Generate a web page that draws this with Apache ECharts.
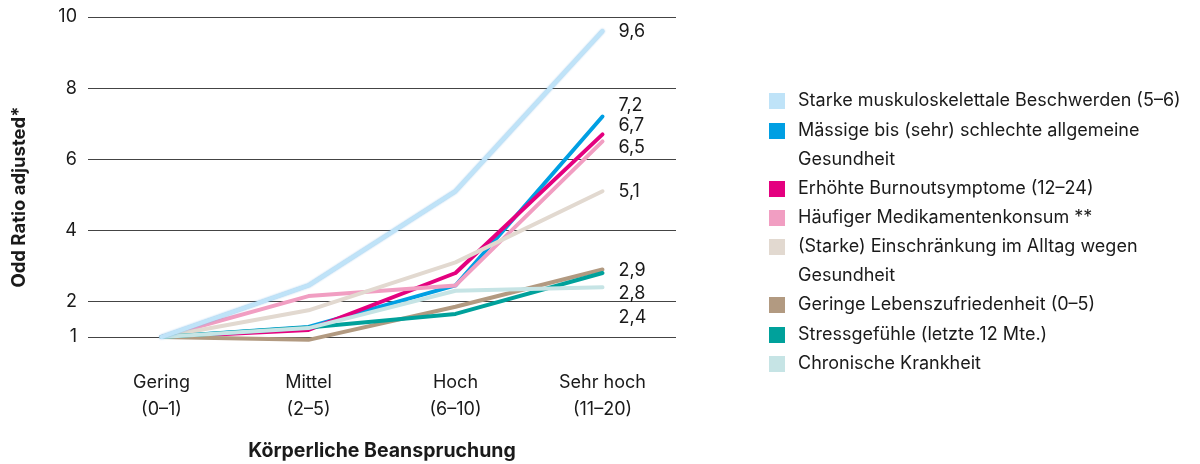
<!DOCTYPE html>
<html>
<head>
<meta charset="utf-8">
<title>Odd Ratio</title>
<script src="https://cdn.jsdelivr.net/npm/echarts@6/dist/echarts.min.js"></script>
<style>
html, body { margin: 0; padding: 0; background: #fff; }
#chart { width: 1200px; height: 464px; }
</style>
</head>
<body>
<div id="chart"></div>
<script>
// categories and tick labels
const categories = ['Gering\n(0–1)', 'Mittel\n(2–5)', 'Hoch\n(6–10)', 'Sehr hoch\n(11–20)'];
const yTicks = [1, 2, 4, 6, 8, 10];

// series names (as in legend)
const seriesNames = [
  'Starke muskuloskelettale Beschwerden (5–6)',
  'Mässige bis (sehr) schlechte allgemeine\nGesundheit',
  'Erhöhte Burnoutsymptome (12–24)',
  'Häufiger Medikamentenkonsum **',
  '(Starke) Einschränkung im Alltag wegen\nGesundheit',
  'Geringe Lebenszufriedenheit (0–5)',
  'Stressgefühle (letzte 12 Mte.)',
  'Chronische Krankheit'
];

// values
const muskel = [1, 2.45, 5.1, 9.6];
const gesundheit = [1, 1.28, 2.45, 7.2];
const burnout = [1, 1.2, 2.8, 6.7];
const medikament = [1, 2.15, 2.45, 6.5];
const einschraenkung = [1, 1.75, 3.1, 5.1];
const lebenszufriedenheit = [1, 0.92, 1.85, 2.9];
const stress = [1, 1.27, 1.65, 2.8];
const chronisch = [1, 1.25, 2.3, 2.4];

const allData = [muskel, gesundheit, burnout, medikament, einschraenkung, lebenszufriedenheit, stress, chronisch];
const colors = ['#bfe3f8', '#009fe3', '#e4007f', '#f19ec2', '#e2d9d0', '#b29a81', '#00a19b', '#c6e4e5'];

// vertical nudges for end labels so they don't overlap
const labelShift = [0, -11, -9, 6, 0, 1, 21, 30];
// legend icon centres
const legendCenters = [101, 131, 189, 218, 247, 305, 335, 364];

const font = "Inter, 'Liberation Sans', Arial, sans-serif";
const textColor = '#1a1a1a';

let myChart = echarts.init(document.getElementById('chart'));

let series = allData.map((d, i) => ({
  name: seriesNames[i],
  type: 'line',
  data: d,
  showSymbol: false,
  symbol: 'none',
  clip: false,
  z: i === 0 ? 4 : 2,
  itemStyle: { color: colors[i] },
  lineStyle: Object.assign(
    { color: colors[i], width: 4, cap: 'round', join: 'round' },
    i === 0 ? { shadowColor: 'rgba(110,175,225,0.8)', shadowBlur: 2 } : {}
  ),
  emphasis: { disabled: true },
  endLabel: {
    show: true,
    distance: 16,
    offset: [0, labelShift[i]],
    fontFamily: font,
    fontSize: 18,
    color: textColor,
    formatter: p => String(p.value).replace('.', ',')
  }
}));

// one legend per entry so the wrapped entries can keep the icon on the first line
let legends = seriesNames.map((n, i) => {
  let twoLines = n.indexOf('\n') >= 0;
  return {
    data: [n],
    orient: 'vertical',
    left: 769,
    top: legendCenters[i] - (twoLines ? 43.5 : 14.5),
    padding: 0,
    icon: 'rect',
    itemWidth: 16,
    itemHeight: 16,
    selectedMode: false,
    formatter: name => (name.indexOf('\n') >= 0 ? '\n' + name : name),
    textStyle: {
      fontFamily: font,
      fontSize: 18,
      color: textColor,
      lineHeight: 29,
      padding: [0, 0, 0, 8]
    }
  };
});

myChart.setOption({
  animation: false,
  textStyle: { fontFamily: font },
  grid: { left: 88, right: 524, top: 17, bottom: 127, containLabel: false, outerBoundsMode: 'none' },
  legend: legends,
  xAxis: {
    type: 'category',
    data: categories,
    boundaryGap: true,
    name: 'Körperliche Beanspruchung',
    nameLocation: 'middle',
    nameGap: 104,
    nameTextStyle: { fontFamily: font, fontSize: 19.5, fontWeight: 'bold', color: textColor },
    axisLine: { show: false },
    axisTick: { show: false },
    axisLabel: { fontFamily: font, fontSize: 18, lineHeight: 27, color: textColor, margin: 32 }
  },
  yAxis: {
    type: 'value',
    min: 1,
    max: 10,
    name: 'Odd Ratio adjusted*',
    nameLocation: 'middle',
    nameGap: 59,
    nameTextStyle: { fontFamily: font, fontSize: 18.5, fontWeight: 'bold', color: textColor, padding: [0, 40, 0, 0] },
    axisLine: { show: false },
    axisTick: { show: false, customValues: yTicks },
    axisLabel: { fontFamily: font, fontSize: 18, color: textColor, margin: 11, customValues: yTicks },
    splitLine: { show: true, lineStyle: { color: '#444', width: 1 } }
  },
  series: series
});
</script>
</body>
</html>
